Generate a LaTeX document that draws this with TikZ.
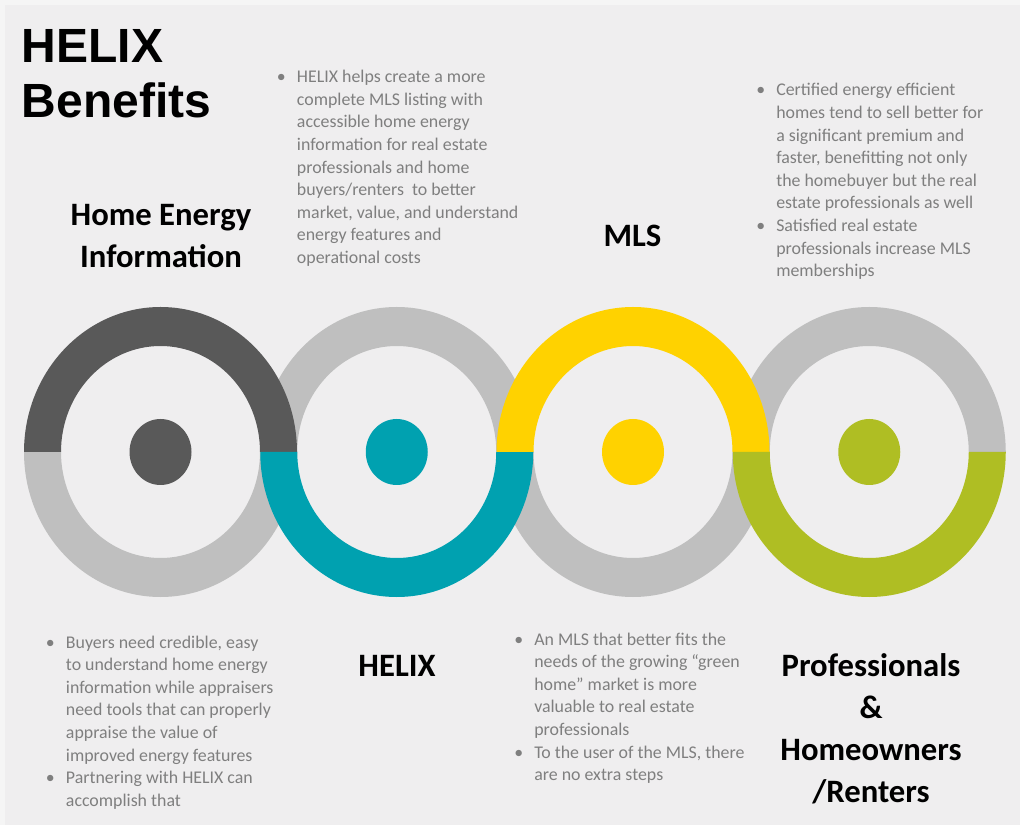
\documentclass[tikz,border=0pt]{standalone}
\usepackage{fontspec}
\setmainfont{Carlito}
\newfontfamily\titlefont{Liberation Sans}
\usetikzlibrary{shapes.geometric}
\definecolor{bgframe}{HTML}{F5F5F5}
\definecolor{bgmain}{HTML}{EFEEEF}
\definecolor{ringgray}{HTML}{BFBFBF}
\definecolor{ringdark}{HTML}{595959}
\definecolor{ringteal}{HTML}{00A1B0}
\definecolor{ringyellow}{HTML}{FFD200}
\definecolor{ringgreen}{HTML}{AFBE23}
\definecolor{bodygray}{HTML}{7F7F7F}
\newcommand\halfring[3]{%
  \fill[#1] ({#2+136.5},373) arc[start angle=0,end angle=#3,x radius=136.5,y radius=145]
    -- ({#2-99.5},373) arc[start angle=#3,end angle=0,x radius=99.5,y radius=106] -- cycle;}
\newcommand\bul{\makebox[15pt][l]{\textbullet}}
\tikzset{
  dot/.style={ellipse,inner sep=0pt,minimum width=46.5pt,minimum height=49.5pt},
  heading/.style={anchor=base,inner sep=0pt,font=\fontsize{24.5}{31.5}\selectfont\bfseries},
  bodytext/.style={anchor=base west,inner sep=0pt,text=bodygray,font=\fontsize{13.4}{16.95}\selectfont},
  titletext/.style={anchor=base west,inner sep=0pt,font=\titlefont\bfseries\fontsize{36}{41.25}\selectfont}
}
\begin{document}
\begin{tikzpicture}[x=0.75pt,y=0.75pt]
\fill[bgframe] (0,0) rectangle (1020,825);
\fill[bgmain] (5,0) rectangle (1020,820);
\useasboundingbox (0,0) rectangle (1020,825);
% gray halves
\halfring{ringgray}{160.5}{-180}
\halfring{ringgray}{396.75}{180}
\halfring{ringgray}{633}{-180}
\halfring{ringgray}{869.25}{180}
% colored halves
\halfring{ringdark}{160.5}{180}
\halfring{ringteal}{396.75}{-180}
\halfring{ringyellow}{633}{180}
\halfring{ringgreen}{869.25}{-180}
% center dots
\node[dot,fill=ringdark] (d1) at (160.5,373) {};
\node[dot,fill=ringteal] (d2) at (396.75,373) {};
\node[dot,fill=ringyellow] (d3) at (633,373) {};
\node[dot,fill=ringgreen] (d4) at (869.25,373) {};
% title
\node[titletext] (title) at (21.5,762) {\begin{tabular}[t]{@{}l@{}}HELIX\\Benefits\end{tabular}};
% headings
\node[heading] (h1) at (161,599) {\begin{tabular}[t]{@{}c@{}}Home Energy\\Information\end{tabular}};
\node[heading] (h2) at (397,149) {HELIX};
\node[heading] (h3) at (632.5,578) {MLS};
\node[heading] (h4) at (871,149) {\begin{tabular}[t]{@{}c@{}}Professionals\\\&\\Homeowners\\/Renters\end{tabular}};
% bullet texts
\node[bodytext] (ta) at (276.7,742.3) {\begin{tabular}[t]{@{}l@{}l@{}}
\bul & HELIX helps create a more\\
 & complete MLS listing with\\
 & accessible home energy\\
 & information for real estate\\
 & professionals and home\\
 & buyers/renters\ \ to better\\
 & market, value, and understand\\
 & energy features and\\
 & operational costs
\end{tabular}};
\node[bodytext] (tb) at (756,729) {\begin{tabular}[t]{@{}l@{}l@{}}
\bul & Certified energy efficient\\
 & homes tend to sell better for\\
 & a significant premium and\\
 & faster, benefitting not only\\
 & the homebuyer but the real\\
 & estate professionals as well\\
\bul & Satisfied real estate\\
 & professionals increase MLS\\
 & memberships
\end{tabular}};
\node[bodytext] (tc) at (45.7,177) {\begin{tabular}[t]{@{}l@{}l@{}}
\bul & Buyers need credible, easy\\
 & to understand home energy\\
 & information while appraisers\\
 & need tools that can properly\\
 & appraise the value of\\
 & improved energy features\\
\bul & Partnering with HELIX can\\
 & accomplish that
\end{tabular}};
\node[bodytext] (td) at (514,180) {\begin{tabular}[t]{@{}l@{}l@{}}
\bul & An MLS that better fits the\\
 & needs of the growing “green\\
 & home” market is more\\
 & valuable to real estate\\
 & professionals\\
\bul & To the user of the MLS, there\\
 & are no extra steps
\end{tabular}};
\end{tikzpicture}
\end{document}
